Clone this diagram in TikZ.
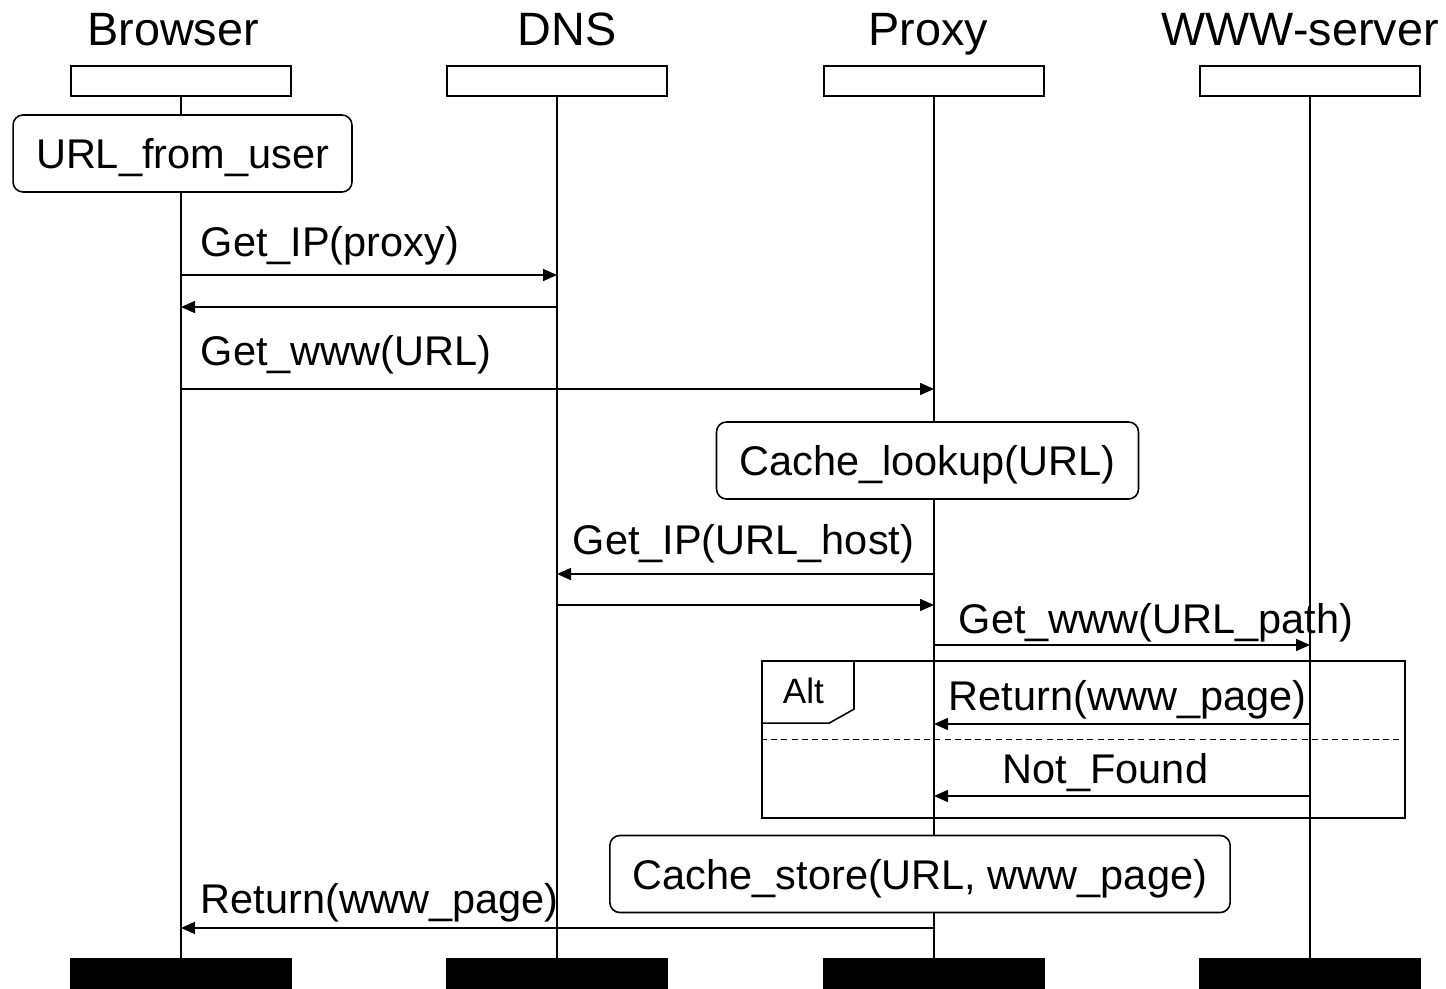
\documentclass[tikz,border=0pt]{standalone}
\usepackage{fontspec}
\setmainfont{Liberation Sans}
\usetikzlibrary{arrows.meta}

\begin{document}
\begin{tikzpicture}[x=0.01cm,y=-0.01cm,line width=0.45pt,
    head/.style={draw,minimum width=2.2cm,minimum height=0.3cm,inner sep=0},
    foot/.style={head,fill=black},
    actor/.style={anchor=base,inner sep=0,font=\fontsize{13.3}{16}\selectfont},
    action/.style={draw,fill=white,rounded corners=0.1cm,minimum height=0.77cm,
                   inner xsep=0.23cm,text depth=0pt,font=\fontsize{11.8}{14}\selectfont},
    lbl/.style={anchor=base west,inner sep=0,font=\fontsize{11.8}{14}\selectfont},
    msg/.style={-{Triangle[length=0.14cm,width=0.12cm]}}]
  \useasboundingbox (0,0) rectangle (1446,989);
  %actors%
  \node[head] (brw) at (181,81) {};
  \node[head] (dns) at (557,81) {};
  \node[head] (prx) at (934,81) {};
  \node[head] (www) at (1310,81) {};
  \node[foot] (brwEnd) at (181,974) {};
  \node[foot] (dnsEnd) at (557,974) {};
  \node[foot] (prxEnd) at (934,974) {};
  \node[foot] (wwwEnd) at (1310,974) {};
  \node[actor] (brwName) at (173,46) {Browser};
  \node[actor] (dnsName) at (567,46) {DNS};
  \node[actor] (prxName) at (928,46) {Proxy};
  \node[actor] (wwwName) at (1300,46) {WWW-server};
  \foreach \a in {brw,dns,prx,www}
    \draw (\a) -- (\a End);

  %alt fragment%
  \node[draw,minimum width=6.43cm,minimum height=1.57cm] (altFrame) at (1083.5,739.5) {};
  \draw (altFrame.north west) ++(0,63) -- ++(68,0) -- ++(25,-14) -- ++(0,-49);
  \draw[dash pattern=on 1.7pt off 1.2pt] (altFrame.west) -- (altFrame.east);
  \node[anchor=base west,inner sep=0,font=\fontsize{10}{12}\selectfont] (alt) at (782,704) {Alt};

  %actions%
  \node[action] (fromUser) at (182.5,153.5) {URL\_from\_user};
  \node[action] (lookup) at (927.5,460.5) {Cache\_lookup(URL)};
  \node[action] (store) at (920,874) {Cache\_store(URL, www\_page)};

  %messages%
  \coordinate (m1) at (0,275);
  \coordinate (m2) at (0,307);
  \coordinate (m3) at (0,389);
  \coordinate (m4) at (0,574);
  \coordinate (m5) at (0,605);
  \coordinate (m6) at (0,645);
  \coordinate (m7) at (0,724);
  \coordinate (m8) at (0,796);
  \coordinate (m9) at (0,928);
  \path[msg]
    (brw |- m1) edge (dns |- m1)
    (dns |- m2) edge (brw |- m2)
    (brw |- m3) edge (prx |- m3)
    (prx |- m4) edge (dns |- m4)
    (dns |- m5) edge (prx |- m5)
    (prx |- m6) edge (www |- m6)
    (www |- m7) edge (prx |- m7)
    (www |- m8) edge (prx |- m8)
    (prx |- m9) edge (brw |- m9);
  \node[lbl] (getProxy) at (200,257) {Get\_IP(proxy)};
  \node[lbl] (getUrl) at (200,366) {Get\_www(URL)};
  \node[lbl] (getHost) at (572,555) {Get\_IP(URL\_host)};
  \node[lbl] (getPath) at (958,634) {Get\_www(URL\_path)};
  \node[lbl] (retPage) at (948,711) {Return(www\_page)};
  \node[lbl] (notFound) at (1002,784) {Not\_Found};
  \node[lbl] (retBrw) at (200,913) {Return(www\_page)};
\end{tikzpicture}
\end{document}
